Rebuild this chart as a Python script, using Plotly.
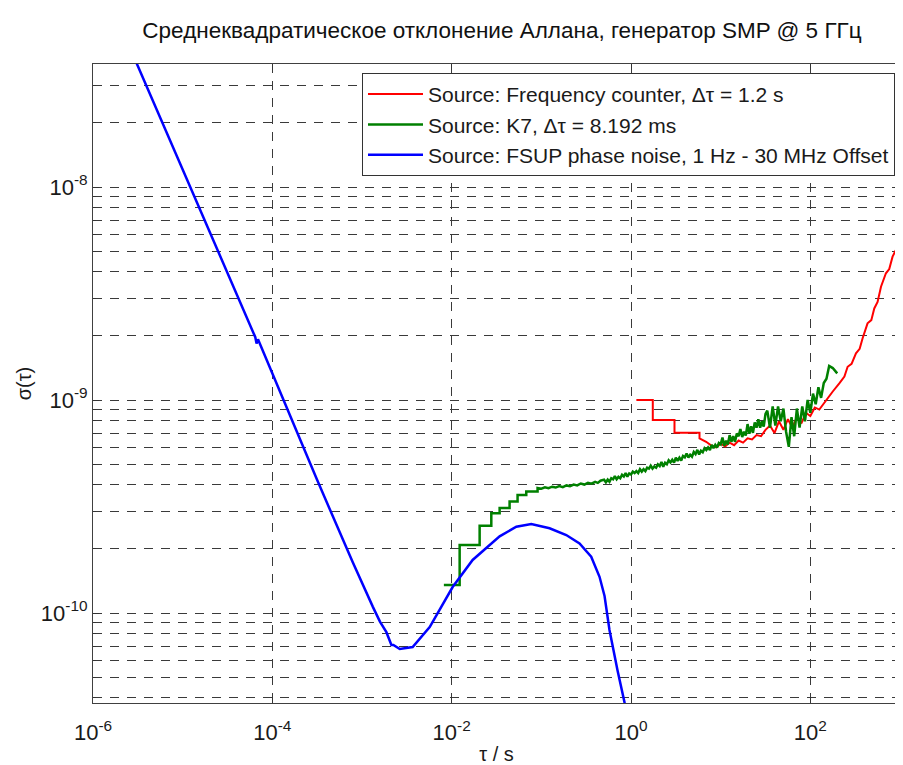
import plotly.graph_objects as go

# ---------------- data (log10 values) ----------------
# Red: frequency counter, dt = 1.2 s   (stairs written out explicitly)
red_logtau = [0.06, 0.243, 0.243, 0.485, 0.485, 0.764, 0.764, 0.838, 0.90, 0.95,
              1.00, 1.05, 1.10, 1.15, 1.20, 1.25, 1.30, 1.35, 1.40, 1.45,
              1.50, 1.55, 1.60, 1.65, 1.70, 1.75, 1.80, 1.85, 1.90, 1.95,
              2.00, 2.05, 2.10, 2.175, 2.25, 2.323, 2.38, 2.416, 2.46, 2.509,
              2.55, 2.583, 2.638, 2.68, 2.713, 2.75, 2.788, 2.843, 2.88, 2.917,
              2.992, 3.02]
red_logsig = [-9.000, -9.000, -9.094, -9.094, -9.154, -9.154, -9.180, -9.196, -9.215, -9.222,
              -9.205, -9.218, -9.200, -9.212, -9.190, -9.200, -9.180, -9.185, -9.165, -9.170,
              -9.140, -9.120, -9.155, -9.100, -9.140, -9.090, -9.130, -9.080, -9.110, -9.060,
              -9.075, -9.035, -9.045, -9.000, -8.960, -8.922, -8.890, -8.844, -8.830, -8.781,
              -8.760, -8.710, -8.640, -8.625, -8.570, -8.540, -8.468, -8.405, -8.385, -8.327,
              -8.264, -8.240]

# Green: K7, dt = 8.192 ms   (stairs at the start written out explicitly)
green_logtau = [-2.087, -1.911, -1.911, -1.688, -1.688, -1.558, -1.558, -1.465, -1.465, -1.354,
                -1.354, -1.265, -1.265, -1.168, -1.168, -1.042, -1.042,
                -1.00, -0.96, -0.92, -0.88, -0.84, -0.80, -0.76, -0.72, -0.68, -0.64,
                -0.60, -0.56, -0.52, -0.48, -0.44, -0.40, -0.37, -0.34,
                -0.30, -0.28, -0.26, -0.24, -0.22, -0.20, -0.18, -0.16, -0.14, -0.12,
                -0.10, -0.08, -0.06, -0.04, -0.02, 0.00, 0.02, 0.04, 0.06, 0.08,
                0.10, 0.12, 0.14, 0.16, 0.18, 0.20, 0.22, 0.24, 0.26, 0.28,
                0.30, 0.32, 0.34, 0.36, 0.38, 0.40, 0.42, 0.44, 0.46, 0.48,
                0.50, 0.52, 0.54, 0.56, 0.58, 0.60, 0.62, 0.64, 0.66, 0.68,
                0.70, 0.72, 0.74, 0.76, 0.78, 0.80, 0.82, 0.84, 0.86, 0.88,
                0.90, 0.92, 0.94, 0.96, 0.98, 1.00, 1.02, 1.04, 1.06, 1.08,
                1.10, 1.12, 1.14, 1.16, 1.18, 1.20, 1.22, 1.24, 1.26, 1.28,
                1.30, 1.32, 1.34, 1.36, 1.38, 1.40, 1.42, 1.44, 1.46, 1.48,
                1.50, 1.52, 1.55, 1.58, 1.61, 1.64, 1.67, 1.70, 1.73, 1.76,
                1.79, 1.82, 1.85, 1.88, 1.91, 1.94, 1.97, 2.00, 2.03, 2.06,
                2.09, 2.12, 2.15, 2.18, 2.21, 2.25, 2.30]
green_logsig = [-9.869, -9.869, -9.681, -9.681, -9.590, -9.590, -9.532, -9.532, -9.507, -9.507,
                -9.477, -9.477, -9.446, -9.446, -9.430, -9.430, -9.413,
                -9.416, -9.410, -9.414, -9.407, -9.411, -9.404, -9.409, -9.401, -9.405, -9.397,
                -9.401, -9.392, -9.397, -9.389, -9.393, -9.384, -9.389, -9.379,
                -9.374, -9.386, -9.374, -9.384, -9.367, -9.372, -9.357, -9.372, -9.361, -9.368,
                -9.351, -9.359, -9.343, -9.360, -9.345, -9.350, -9.336, -9.343, -9.334, -9.343,
                -9.325, -9.336, -9.325, -9.334, -9.318, -9.322, -9.308, -9.322, -9.312, -9.318,
                -9.302, -9.310, -9.291, -9.313, -9.295, -9.302, -9.283, -9.293, -9.281, -9.294,
                -9.271, -9.286, -9.271, -9.284, -9.263, -9.269, -9.251, -9.270, -9.257, -9.266,
                -9.244, -9.254, -9.234, -9.256, -9.238, -9.245, -9.226, -9.235, -9.223, -9.235,
                -9.211, -9.226, -9.211, -9.223, -9.202, -9.208, -9.176, -9.215, -9.191, -9.209,
                -9.165, -9.196, -9.170, -9.196, -9.157, -9.170, -9.136, -9.174, -9.149, -9.167,
                -9.113, -9.158, -9.124, -9.154, -9.105, -9.130, -9.090, -9.130, -9.100, -9.125,
                -9.065, -9.050, -9.130, -9.030, -9.120, -9.030, -9.100, -9.040, -9.150, -9.220,
                -9.080, -9.170, -9.040, -9.130, -9.030, -9.100, -9.000, -9.060, -8.970, -9.020,
                -8.940, -8.990, -8.920, -8.900, -8.840, -8.850, -8.875]

# Blue: FSUP phase noise, 1 Hz - 30 MHz offset
blue_logtau = [-5.6, -5.0, -4.5, -4.19, -4.176, -4.16, -3.5, -3.103, -2.88, -2.80,
               -2.728, -2.672, -2.65, -2.579, -2.435, -2.245, -1.989, -1.766, -1.465, -1.279,
               -1.112, -0.908, -0.722, -0.574, -0.444, -0.351, -0.295, -0.24, -0.15, -0.072,
               -0.05]
blue_logsig = [-7.335, -7.918, -8.404, -8.705, -8.735, -8.715, -9.376, -9.762, -9.970, -10.040,
               -10.090, -10.150, -10.150, -10.169, -10.160, -10.066, -9.878, -9.751, -9.640, -9.595,
               -9.582, -9.602, -9.634, -9.673, -9.736, -9.830, -9.920, -10.080, -10.270, -10.420,
               -10.500]

names = ["Source: Frequency counter, \u0394\u03c4 = 1.2 s",
         "Source: K7, \u0394\u03c4 = 8.192 ms",
         "Source: FSUP phase noise, 1 Hz - 30 MHz Offset"]

x_tick_exp = [-6, -4, -2, 0, 2]
y_tick_exp = [-10, -9, -8]

title_text = "Среднеквадратическое отклонение Аллана, генератор SMP @ 5 ГГц"

# ---------------- figure ----------------
def p10(v):
    return [10 ** a for a in v]

FONT = "Arial, Liberation Sans, sans-serif"
GRID = "#3a3a3a"
W, H = 895, 757   # page body adds an 8 px margin

fig = go.Figure()
fig.add_trace(go.Scatter(x=p10(red_logtau), y=p10(red_logsig), mode="lines", name=names[0],
                         line=dict(color="#ff0000", width=2), legendgroup="a"))
fig.add_trace(go.Scatter(x=p10(green_logtau), y=p10(green_logsig), mode="lines", name=names[1],
                         line=dict(color="#008000", width=2.5), legendgroup="b"))
fig.add_trace(go.Scatter(x=p10(blue_logtau), y=p10(blue_logsig), mode="lines", name=names[2],
                         line=dict(color="#0000ff", width=2.5), legendgroup="c"))

y_minor = [k * 10.0 ** e for e in range(-11, -7) for k in range(2, 10)]

fig.update_layout(
    width=W, height=H,
    margin=dict(l=85, r=3, t=56, b=62),
    paper_bgcolor="white", plot_bgcolor="white",
    font=dict(family=FONT, color="#1a1a1a"),
    title=dict(text=title_text, x=494 / W, xref="container", xanchor="center",
               y=1 - 22 / H, yref="container", yanchor="middle",
               font=dict(family=FONT, size=22.5, color="#111111")),
    showlegend=True,
    legend=dict(x=0.9938, y=0.986, xanchor="right", yanchor="top",
                bgcolor="white", bordercolor="#333333", borderwidth=1,
                font=dict(family=FONT, size=21, color="#1a1a1a"),
                itemwidth=55, tracegroupgap=0),
)

fig.update_xaxes(
    type="log", range=[-6, 3], automargin=False,
    tickmode="array", tickvals=[10.0 ** e for e in x_tick_exp],
    ticktext=["10<sup>%d</sup>" % e for e in x_tick_exp],
    tickfont=dict(family=FONT, size=22, color="#1a1a1a"),
    ticks="inside", ticklen=6, tickcolor="#333333", ticklabelstandoff=10,
    showline=True, linecolor="#404040", linewidth=1, mirror="ticks",
    showgrid=True, gridcolor=GRID, gridwidth=1, griddash="9px,8px",
    zeroline=False,
    title=dict(text="\u03c4 / s", font=dict(family=FONT, size=20, color="#1a1a1a"), standoff=4),
)
fig.update_yaxes(
    type="log", range=[-10.4225, -7.4225], automargin=False,
    tickmode="array", tickvals=[10.0 ** e for e in y_tick_exp],
    ticktext=["10<sup>%d</sup>" % e for e in y_tick_exp],
    tickfont=dict(family=FONT, size=22, color="#1a1a1a"),
    ticks="inside", ticklen=6, tickcolor="#333333",
    showline=True, linecolor="#404040", linewidth=1, mirror="ticks",
    showgrid=True, gridcolor=GRID, gridwidth=1, griddash="9px,8px",
    zeroline=False,
    minor=dict(tickmode="array", tickvals=y_minor, ticks="inside", ticklen=3,
               tickcolor="#333333", showgrid=True, gridcolor=GRID, gridwidth=1,
               griddash="9px,8px"),
    title=dict(text="\u03c3(\u03c4)", font=dict(family=FONT, size=20, color="#1a1a1a"), standoff=3),
)

fig.write_html("out.html")
